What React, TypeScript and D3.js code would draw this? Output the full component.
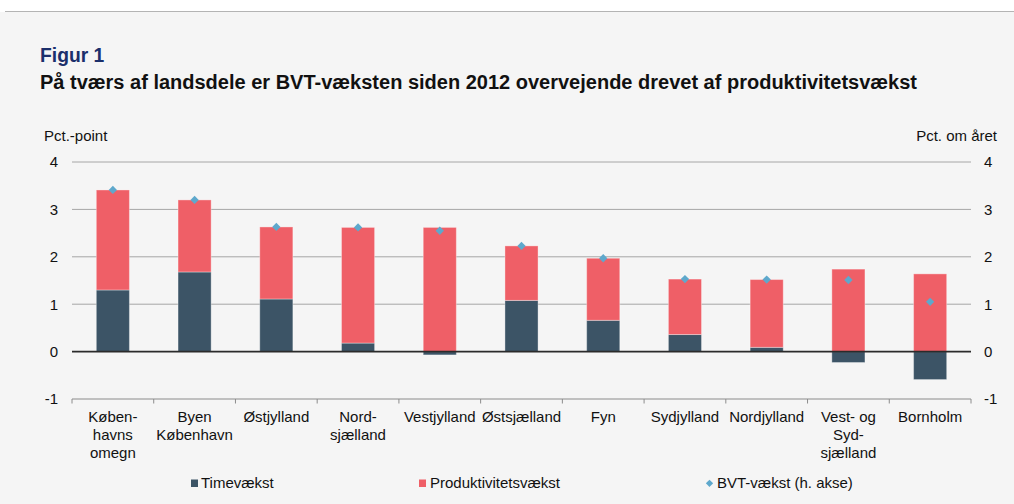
import React from "react";
import * as d3 from "d3";

const categories: string[][] = [
  ["Køben-", "havns", "omegn"],
  ["Byen", "København"],
  ["Østjylland"],
  ["Nord-", "sjælland"],
  ["Vestjylland"],
  ["Østsjælland"],
  ["Fyn"],
  ["Sydjylland"],
  ["Nordjylland"],
  ["Vest- og", "Syd-", "sjælland"],
  ["Bornholm"],
];
const timevaekst = [1.3, 1.68, 1.11, 0.18, -0.07, 1.08, 0.66, 0.36, 0.09, -0.23, -0.59];
const produktivitet = [2.11, 1.52, 1.52, 2.44, 2.62, 1.15, 1.31, 1.17, 1.43, 1.74, 1.64];
const bvt = [3.41, 3.2, 2.63, 2.62, 2.55, 2.23, 1.97, 1.53, 1.52, 1.51, 1.05];
const yTicks = [-1, 0, 1, 2, 3, 4];

const W = 1014;
const H = 504;
const left = 72;
const right = 971;
const top = 162;
const bottom = 399;

const DARK = "#3c5466";
const RED = "#ef5f67";
const BLUE = "#5ea8cc";
const FONT = "Liberation Sans, Arial, sans-serif";
const FS = 15;

export default function App() {
  const idx = categories.map((_, i) => i);
  const x = d3.scaleBand<number>().domain(idx).range([left, right]).paddingInner(0).paddingOuter(0);
  const y = d3.scaleLinear().domain([-1, 4]).range([bottom, top]);
  const bw = x.bandwidth() * 0.405;

  const stacks = idx.map((i) => {
    const t = timevaekst[i];
    const p = produktivitet[i];
    const segs: { y0: number; y1: number; c: string }[] = [];
    if (t >= 0) {
      segs.push({ y0: 0, y1: t, c: DARK });
      segs.push({ y0: t, y1: t + p, c: RED });
    } else {
      segs.push({ y0: t, y1: 0, c: DARK });
      segs.push({ y0: 0, y1: p, c: RED });
    }
    return segs;
  });

  const diamond = d3.symbol().type(d3.symbolDiamond2).size(44)();
  const diamondSmall = d3.symbol().type(d3.symbolDiamond2).size(34)();

  return (
    <svg width={W} height={H} style={{ position: "absolute", left: 0, top: 0, display: "block" }} fontFamily={FONT}>
      <rect x={0} y={0} width={W} height={H} fill="#ffffff" />
      <rect x={0} y={12} width={W} height={H - 12} fill="#f5f5f5" />
      <line x1={5} x2={W} y1={11.5} y2={11.5} stroke="#b4b4b4" strokeWidth={1} />

      <text x={40} y={61.5} fontSize={19.3} fontWeight="bold" fill="#1b2f6b">Figur 1</text>
      <text x={40} y={89} fontSize={19.6} fontWeight="bold" fill="#111" textLength={877} lengthAdjust="spacingAndGlyphs">
        På tværs af landsdele er BVT-væksten siden 2012 overvejende drevet af produktivitetsvækst
      </text>

      <text x={44} y={140.5} fontSize={FS} fill="#111">Pct.-point</text>
      <text x={997} y={140.5} fontSize={FS} fill="#111" textAnchor="end">Pct. om året</text>

      {yTicks.filter((t) => t > -1 && t !== 0).map((t) => (
        <line key={"g" + t} x1={left} x2={right} y1={y(t)} y2={y(t)} stroke="#a6a6a6" strokeWidth={1} />
      ))}

      {yTicks.map((t) => (
        <g key={"yl" + t}>
          <text x={58} y={y(t) + 5.3} fontSize={FS} fill="#111" textAnchor="end">{t}</text>
          <text x={984} y={y(t) + 5.3} fontSize={FS} fill="#111">{t}</text>
        </g>
      ))}

      {stacks.map((segs, i) =>
        segs.map((s, j) => (
          <rect
            key={`b${i}-${j}`}
            x={(x(i) as number) + x.bandwidth() / 2 - bw / 2}
            y={y(s.y1)}
            width={bw}
            height={Math.max(0, y(s.y0) - y(s.y1))}
            fill={s.c}
            stroke="#ffffff"
            strokeOpacity={0.35}
            strokeWidth={1}
          />
        ))
      )}

      <line x1={left} x2={right} y1={y(0)} y2={y(0)} stroke="#2b2b2b" strokeWidth={1.6} />

      <line x1={left} x2={right} y1={y(-1)} y2={y(-1)} stroke="#8c8c8c" strokeWidth={1.2} />
      {d3.range(categories.length + 1).map((k) => {
        const xx = k < categories.length ? (x(k) as number) : right;
        return <line key={"t" + k} x1={xx} x2={xx} y1={y(-1)} y2={y(-1) + 4.5} stroke="#8c8c8c" strokeWidth={1} />;
      })}

      {bvt.map((v, i) => (
        <path
          key={"d" + i}
          d={diamond as string}
          transform={`translate(${(x(i) as number) + x.bandwidth() / 2},${y(v)})`}
          fill={BLUE}
        />
      ))}

      {categories.map((lines, i) => (
        <text key={"c" + i} x={(x(i) as number) + x.bandwidth() / 2} y={422.3} fontSize={FS} fill="#111" textAnchor="middle">
          {lines.map((l, j) => (
            <tspan key={j} x={(x(i) as number) + x.bandwidth() / 2} dy={j === 0 ? 0 : 17.6}>{l}</tspan>
          ))}
        </text>
      ))}

      <rect x={191} y={479.5} width={7} height={7.5} fill={DARK} />
      <text x={201} y={488.3} fontSize={FS} fill="#111">Timevækst</text>
      <rect x={419} y={479.5} width={7} height={7.5} fill={RED} />
      <text x={430} y={488.3} fontSize={FS} fill="#111">Produktivitetsvækst</text>
      <path d={diamondSmall as string} transform="translate(709.5,483.3)" fill={BLUE} />
      <text x={717} y={488.3} fontSize={FS} fill="#111">BVT-vækst (h. akse)</text>
    </svg>
  );
}
